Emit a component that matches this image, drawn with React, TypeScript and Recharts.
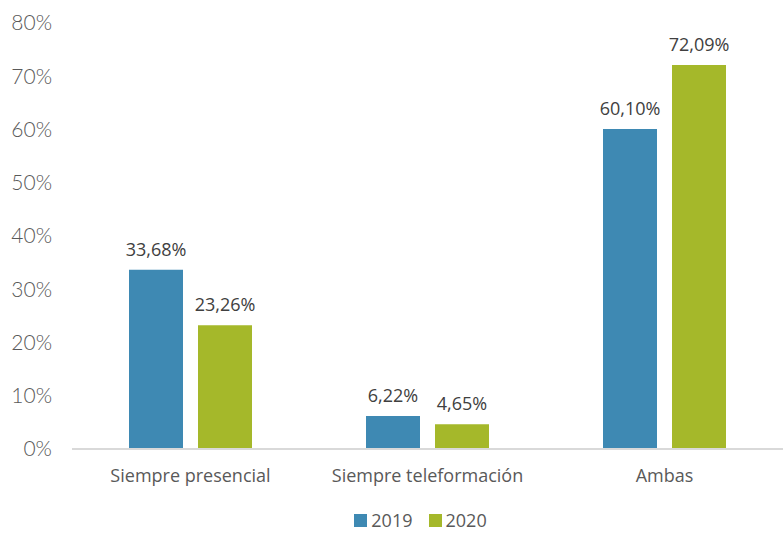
import * as React from 'react';
import { BarChart, Bar, XAxis, YAxis, LabelList, Legend } from 'recharts';

const categories = ['Siempre presencial', 'Siempre teleformación', 'Ambas'];
const values2019 = [33.68, 6.22, 60.1];
const values2020 = [23.26, 4.65, 72.09];
const yTicks = [0, 10, 20, 30, 40, 50, 60, 70, 80];

const BLUE = '#3E89B3';
const GREEN = '#A5B82A';

const data = categories.map((name, i) => ({ name, y2019: values2019[i], y2020: values2020[i] }));

const fmt = (v: number) => v.toFixed(2).replace('.', ',') + '%';

const LegendContent = () => (
  <div style={{ display: 'flex', justifyContent: 'center', gap: 16, fontFamily: 'Open Sans', fontSize: 18, color: '#595959', lineHeight: '26px', paddingLeft: 58 }}>
    {[['2019', BLUE], ['2020', GREEN]].map(([label, color]) => (
      <span key={label} style={{ display: 'flex', alignItems: 'center', gap: 4 }}>
        <span style={{ width: 13, height: 13, background: color, display: 'inline-block' }} />
        {label}
      </span>
    ))}
  </div>
);

export default function App() {
  return (
    <div style={{ position: 'absolute', left: 0, top: 0, background: '#fff' }}>
      <BarChart
        width={783}
        height={533}
        data={data}
        margin={{ top: 23, right: 0, left: 0, bottom: 0 }}
        barGap={15}
        barSize={54}
      >
        <XAxis
          dataKey="name"
          axisLine={{ stroke: '#D9D9D9', strokeWidth: 2 }}
          tickLine={false}
          tickMargin={14}
          height={58}
          tick={{ fontFamily: 'Open Sans', fontSize: 18, fill: '#595959' }}
        />
        <YAxis
          domain={[0, 80]}
          ticks={yTicks}
          width={72}
          axisLine={false}
          tickLine={false}
          tickSize={0}
          tickMargin={20}
          tickFormatter={(v) => `${v}%`}
          tick={{ fontFamily: 'Lato', fontSize: 21, fill: '#595959', fontWeight: 300 }}
        />
        <Legend verticalAlign="bottom" content={<LegendContent />} wrapperStyle={{ bottom: 0 }} />
        <Bar dataKey="y2019" fill={BLUE} isAnimationActive={false}>
          <LabelList dataKey="y2019" position="top" offset={14} formatter={fmt} style={{ fontFamily: 'Open Sans', fontSize: 18, fill: '#404040' }} />
        </Bar>
        <Bar dataKey="y2020" fill={GREEN} isAnimationActive={false}>
          <LabelList dataKey="y2020" position="top" offset={14} formatter={fmt} style={{ fontFamily: 'Open Sans', fontSize: 18, fill: '#404040' }} />
        </Bar>
      </BarChart>
    </div>
  );
}
